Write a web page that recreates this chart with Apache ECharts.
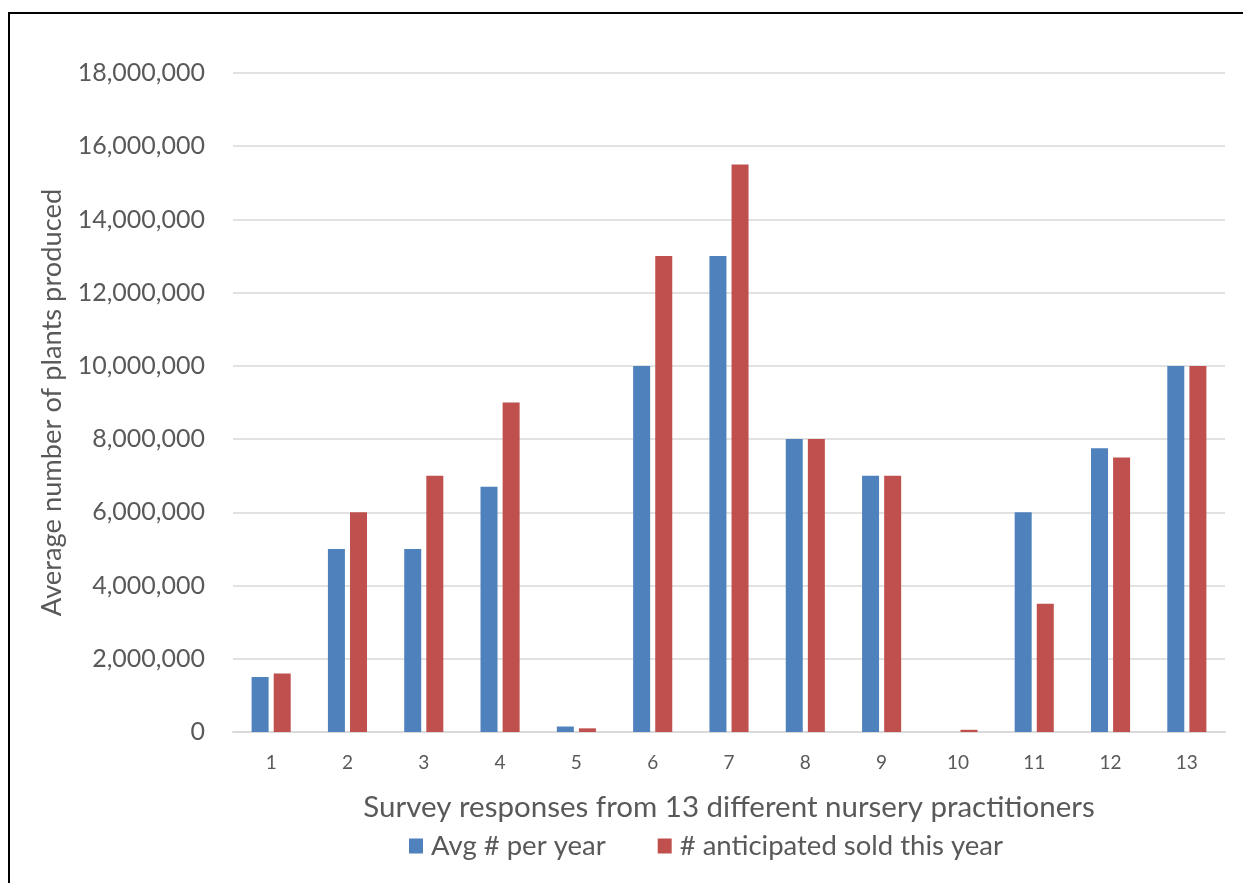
<!DOCTYPE html>
<html>
<head>
<meta charset="utf-8">
<script src="https://cdn.jsdelivr.net/npm/echarts@6/dist/echarts.min.js"></script>
<style>
  html, body { margin: 0; padding: 0; background: #fff; }
  #chart { width: 1243px; height: 883px; }
</style>
</head>
<body>
<div id="chart"></div>
<script>
// Survey responses: plant production per nursery
const categories = ['1', '2', '3', '4', '5', '6', '7', '8', '9', '10', '11', '12', '13'];
const avgPerYear = [1500000, 5000000, 5000000, 6700000, 150000, 10000000, 13000000, 8000000, 7000000, 0, 6000000, 7750000, 10000000];
const anticipatedSold = [1600000, 6000000, 7000000, 9000000, 100000, 13000000, 15500000, 8000000, 7000000, 60000, 3500000, 7500000, 10000000];
const seriesNames = ['Avg # per year', '# anticipated sold this year'];

const FONT = 'Lato, "Open Sans", sans-serif';
const TEXT = '#595959';

const chart = echarts.init(document.getElementById('chart'), null, { renderer: 'canvas' });
chart.setOption({
  backgroundColor: '#ffffff',
  animation: false,
  textStyle: { fontFamily: FONT, color: TEXT },
  graphic: [
    { type: 'polyline', shape: { points: [[9, 883], [9, 13], [1243, 13]] },
      style: { stroke: '#000', lineWidth: 2, fill: null } }
  ],
  grid: { left: 233, right: 18, top: 73, bottom: 151 },
  legend: {
    bottom: 18,
    left: 404,
    itemWidth: 14,
    itemHeight: 15,
    itemGap: 52,
    icon: 'rect',
    textStyle: { fontFamily: FONT, fontSize: 27.5, color: TEXT, padding: [0, 0, 0, 3] },
    data: seriesNames
  },
  xAxis: {
    type: 'category',
    data: categories,
    name: 'Survey responses from 13 different nursery practitioners',
    nameLocation: 'middle',
    nameGap: 60,
    nameTextStyle: { fontFamily: FONT, fontSize: 29.5, color: TEXT },
    axisLine: { lineStyle: { color: '#d9d9d9', width: 2 } },
    axisTick: { show: false },
    axisLabel: { fontFamily: FONT, fontSize: 19, color: TEXT, margin: 21 }
  },
  yAxis: {
    type: 'value',
    min: 0,
    max: 18000000,
    interval: 2000000,
    name: 'Average number of plants produced',
    nameLocation: 'middle',
    nameGap: 167,
    nameRotate: 90,
    nameTextStyle: { fontFamily: FONT, fontSize: 27.3, color: TEXT },
    axisLine: { show: false },
    axisTick: { show: false },
    splitLine: { lineStyle: { color: '#d9d9d9', width: 1.5 } },
    axisLabel: {
      fontFamily: FONT, fontSize: 25, color: TEXT, margin: 28,
      formatter: v => v.toLocaleString('en-US')
    }
  },
  series: [
    { name: seriesNames[0], type: 'bar', data: avgPerYear, barWidth: 17, barGap: '30%',
      itemStyle: { color: '#4f81bd' } },
    { name: seriesNames[1], type: 'bar', data: anticipatedSold, barWidth: 17,
      itemStyle: { color: '#c0504d' } }
  ]
});
</script>
</body>
</html>
